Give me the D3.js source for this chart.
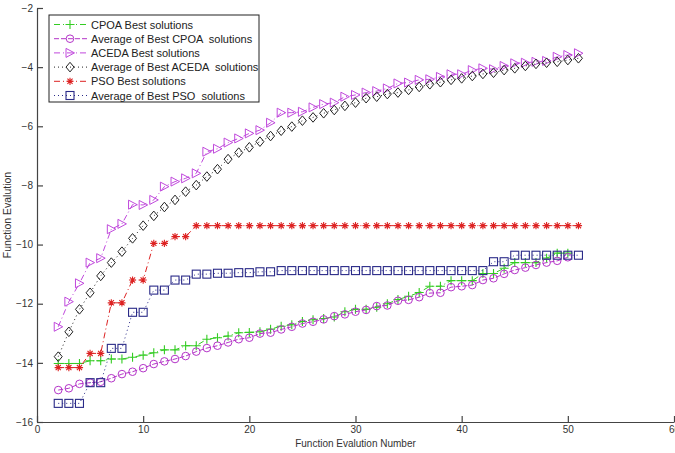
<!DOCTYPE html>
<html>
<head>
<meta charset="utf-8">
<script src="https://cdn.jsdelivr.net/npm/d3@7"></script>
<style>
  html, body { margin: 0; padding: 0; background: #fff; }
  svg { display: block; font-family: "Liberation Sans", Arial, sans-serif; }
  text { white-space: pre; }
</style>
</head>
<body>
<svg id="chart" width="675" height="453"></svg>
<script>
// Iteration numbers (2..51) and best / average function evaluations per algorithm
const iterFull = [2,3,4,5,6,7,8,9,10,11,12,13,14,15,16,17,18,19,20,21,22,23,24,25,26,27,28,29,30,31,32,33,34,35,36,37,38,39,40,41,42,43,44,45,46,47,48,49,50,51];
const iterShort = iterFull.slice(0, 49);

const cpoaBest = [-14.02,-14.02,-14.02,-13.93,-13.93,-13.87,-13.87,-13.81,-13.74,-13.66,-13.56,-13.56,-13.42,-13.42,-13.2,-13.15,-13.09,-12.98,-12.97,-12.95,-12.86,-12.76,-12.71,-12.6,-12.54,-12.5,-12.45,-12.27,-12.19,-12.19,-12.12,-12.0,-11.86,-11.75,-11.62,-11.41,-11.41,-11.22,-11.22,-11.22,-10.98,-10.98,-10.8,-10.61,-10.61,-10.61,-10.46,-10.29,-10.29];
const cpoaAvg = [-14.92,-14.86,-14.71,-14.67,-14.64,-14.52,-14.38,-14.30,-14.18,-14.04,-13.95,-13.87,-13.77,-13.62,-13.5,-13.42,-13.31,-13.2,-13.15,-13.01,-12.98,-12.87,-12.78,-12.67,-12.61,-12.53,-12.42,-12.36,-12.27,-12.21,-12.08,-12.06,-11.9,-11.87,-11.78,-11.64,-11.63,-11.44,-11.41,-11.37,-11.2,-11.14,-10.99,-10.86,-10.78,-10.69,-10.61,-10.55,-10.43];
const acedaBest = [-12.78,-11.93,-11.31,-10.61,-10.46,-9.48,-9.30,-8.65,-8.66,-8.49,-8.04,-7.87,-7.76,-7.59,-6.86,-6.76,-6.55,-6.41,-6.24,-6.13,-5.88,-5.54,-5.54,-5.51,-5.36,-5.25,-5.20,-5.0,-4.94,-4.86,-4.81,-4.72,-4.55,-4.52,-4.43,-4.41,-4.33,-4.24,-4.24,-4.10,-4.04,-4.07,-3.96,-3.87,-3.85,-3.82,-3.79,-3.65,-3.59,-3.53];
const acedaAvg = [-13.79,-12.95,-12.19,-11.63,-11.06,-10.61,-10.24,-9.79,-9.36,-9.03,-8.73,-8.49,-8.21,-7.99,-7.70,-7.45,-7.11,-6.89,-6.71,-6.52,-6.33,-6.15,-6.01,-5.81,-5.70,-5.56,-5.45,-5.31,-5.20,-5.05,-5.0,-4.91,-4.86,-4.77,-4.67,-4.58,-4.51,-4.43,-4.38,-4.30,-4.23,-4.19,-4.10,-4.04,-3.96,-3.89,-3.85,-3.82,-3.76,-3.70];
const psoBest = [-14.16,-14.16,-14.16,-13.68,-13.68,-11.97,-11.97,-11.20,-11.20,-9.96,-9.96,-9.73,-9.73,-9.36,-9.36,-9.36,-9.36,-9.36,-9.36,-9.36,-9.36,-9.36,-9.36,-9.36,-9.36,-9.36,-9.36,-9.36,-9.36,-9.36,-9.36,-9.36,-9.36,-9.36,-9.36,-9.36,-9.36,-9.36,-9.36,-9.36,-9.36,-9.36,-9.36,-9.36,-9.36,-9.36,-9.36,-9.36,-9.36,-9.36];
const psoAvg = [-15.37,-15.37,-15.37,-14.67,-14.67,-13.51,-13.51,-12.29,-12.29,-11.54,-11.54,-11.20,-11.20,-11.0,-11.0,-10.97,-10.97,-10.95,-10.95,-10.92,-10.92,-10.88,-10.88,-10.88,-10.88,-10.88,-10.88,-10.88,-10.88,-10.88,-10.88,-10.88,-10.88,-10.88,-10.88,-10.88,-10.88,-10.88,-10.88,-10.88,-10.88,-10.58,-10.58,-10.36,-10.36,-10.36,-10.36,-10.36,-10.36,-10.36];

const xTicks = [0,10,20,30,40,50,60];
const yTicks = [-16,-14,-12,-10,-8,-6,-4,-2];

const seriesNames = ["CPOA Best solutions", "Average of Best CPOA  solutions", "ACEDA Best solutions",
  "Average of Best ACEDA  solutions", "PSO Best solutions", "Average of Best PSO  solutions"];

const series = [
  { name: seriesNames[0], xs: iterShort, ys: cpoaBest,  color: "#33cc22", dash: "6,3,1,3", marker: "plus" },
  { name: seriesNames[1], xs: iterShort, ys: cpoaAvg,   color: "#b434c8", dash: "5,2",     marker: "circle" },
  { name: seriesNames[2], xs: iterFull,  ys: acedaBest, color: "#c048dc", dash: "6,3,1,3", marker: "triangle" },
  { name: seriesNames[3], xs: iterFull,  ys: acedaAvg,  color: "#222222", dash: "1,3",     marker: "diamond" },
  { name: seriesNames[4], xs: iterFull,  ys: psoBest,   color: "#dd2222", dash: "6,3,1,3", marker: "star" },
  { name: seriesNames[5], xs: iterFull,  ys: psoAvg,    color: "#2a2a88", dash: "1,3",     marker: "square" }
];

const svg = d3.select("#chart");
const plot = { left: 37, right: 674, top: 8, bottom: 422 };

const x = d3.scaleLinear().domain([0, 60]).range([plot.left, plot.right]);
const y = d3.scaleLinear().domain([-16, -2]).range([plot.bottom, plot.top]);

// Axes with inward ticks
const axisColor = "#444";
const xAxis = svg.append("g")
  .attr("transform", `translate(0,${plot.bottom})`)
  .call(d3.axisBottom(x).tickValues(xTicks).tickSizeInner(-6).tickSizeOuter(0).tickPadding(4));
const yAxis = svg.append("g")
  .attr("transform", `translate(${plot.left},0)`)
  .call(d3.axisLeft(y).tickValues(yTicks).tickSizeInner(-6).tickSizeOuter(0).tickPadding(4));
[xAxis, yAxis].forEach(a => {
  a.select(".domain").attr("stroke", axisColor).attr("stroke-width", 1.2);
  a.selectAll(".tick line").attr("stroke", axisColor).attr("stroke-width", 1.2);
  a.selectAll(".tick text").attr("fill", "#333").style("font-size", "10px")
    .style("font-family", "'Liberation Sans', Arial, sans-serif");
});

// Axis titles
svg.append("text")
  .attr("x", x(30)).attr("y", 447)
  .attr("text-anchor", "middle").attr("fill", "#333").style("font-size", "10px")
  .text("Function Evalution Number");
svg.append("text")
  .attr("transform", `translate(11,${y(-9)}) rotate(-90)`)
  .attr("text-anchor", "middle").attr("fill", "#333").style("font-size", "10.5px")
  .text("Function Evalution");

// Marker drawing helper
function drawMarker(g, type, color) {
  const s = 4;
  switch (type) {
    case "plus":
      g.append("path").attr("d", `M${-s - 0.5},0H${s + 0.5}M0,${-s - 0.5}V${s + 0.5}`)
        .attr("stroke", color).attr("stroke-width", 1.1).attr("fill", "none");
      break;
    case "circle":
      g.append("circle").attr("r", 3.8).attr("stroke", color).attr("stroke-width", 1).attr("fill", "none");
      break;
    case "triangle":
      g.append("path").attr("d", `M${-s},${-s - 0.5}L${s + 0.5},0L${-s},${s + 0.5}Z`)
        .attr("stroke", color).attr("stroke-width", 1).attr("fill", "none");
      break;
    case "diamond":
      g.append("path").attr("d", `M0,${-s - 0.8}L${s},0L0,${s + 0.8}L${-s},0Z`)
        .attr("stroke", color).attr("stroke-width", 1).attr("fill", "none");
      break;
    case "star": {
      const r = 3.6, d = r * 0.72;
      g.append("path").attr("d", `M${-r},0H${r}M0,${-r}V${r}M${-d},${-d}L${d},${d}M${-d},${d}L${d},${-d}`)
        .attr("stroke", color).attr("stroke-width", 1.1).attr("fill", "none");
      break;
    }
    case "square":
      g.append("rect").attr("x", -s).attr("y", -s).attr("width", 2 * s).attr("height", 2 * s)
        .attr("stroke", color).attr("stroke-width", 1.1).attr("fill", "none");
      break;
  }
}

const line = d3.line().x(d => x(d[0])).y(d => y(d[1]));

series.forEach(s => {
  const pts = s.xs.map((v, i) => [v, s.ys[i]]);
  const g = svg.append("g");
  g.append("path").datum(pts).attr("d", line)
    .attr("fill", "none").attr("stroke", s.color).attr("stroke-width", 1)
    .attr("stroke-dasharray", s.dash);
  pts.forEach(p => {
    const m = g.append("g").attr("transform", `translate(${x(p[0])},${y(p[1])})`);
    drawMarker(m, s.marker, s.color);
  });
});

// Legend
const legend = svg.append("g").attr("transform", "translate(49,15)");
legend.append("rect").attr("x", 0).attr("y", 0).attr("width", 210).attr("height", 87)
  .attr("fill", "#fff").attr("stroke", "#222").attr("stroke-width", 1);
series.forEach((s, i) => {
  const cy = 9.5 + i * 14.2;
  const row = legend.append("g").attr("transform", `translate(0,${cy})`);
  row.append("line").attr("x1", 5).attr("x2", 38).attr("y1", 0).attr("y2", 0)
    .attr("stroke", s.color).attr("stroke-width", 1).attr("stroke-dasharray", s.dash);
  const m = row.append("g").attr("transform", "translate(21,0)");
  drawMarker(m, s.marker, s.color);
  row.append("text").attr("x", 42).attr("y", 4).attr("fill", "#222")
    .style("font-size", "11px").text(s.name);
});
</script>
</body>
</html>
